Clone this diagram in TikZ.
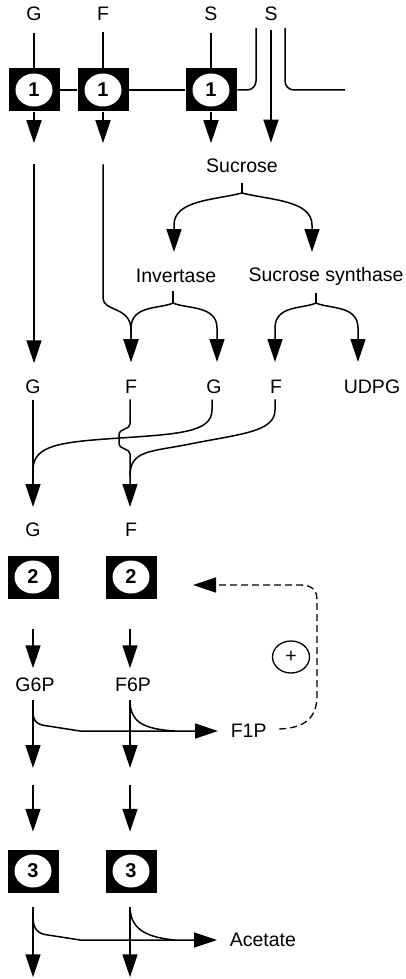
\documentclass[tikz,border=0pt]{standalone}
\usepackage{fontspec}
\setmainfont{Liberation Sans}
\usetikzlibrary{arrows.meta,shapes.geometric}
\tikzset{
  arr/.style={-{Triangle[width=15pt,length=23pt]}},
  met/.style={inner sep=0pt},
  enz/.style={fill=black,minimum width=51pt,minimum height=43pt,inner sep=0pt,
    font=\fontsize{20}{20}\selectfont\bfseries,
    path picture={\fill[white] (path picture bounding box.center) ellipse (18.5pt and 16.5pt);}},
}
\begin{document}
\begin{tikzpicture}[x=1pt,y=-1pt,line width=1.5pt,font=\fontsize{19.5}{22}\selectfont]
\useasboundingbox (0,0) rectangle (406,979);
\node[met] (G0) at (34,14) {G};
\node[met] (F0) at (103,14) {F};
\node[met] (S0) at (211,14) {S};
\node[met] (S1) at (271,14) {S};
\node[enz] (A1) at (34,90) {1};
\node[enz] (B1) at (103,90) {1};
\node[enz] (C1) at (211,90) {1};
\draw (G0.south) ++(0,11) -- (A1.north);
\draw (F0.south) ++(0,11) -- (B1.north);
\draw (S0.south) ++(0,11) -- (C1.north);
\draw (A1.east) -- (B1.west);
\draw (B1.east) -- (C1.west);
\draw[rounded corners=9pt] (C1.east) -- (256,90) -- (256,28);
\draw[rounded corners=9pt] (285,28) -- (285,90) -- (345,90);
\draw[arr] (A1.south) -- ++(0,31);
\draw[arr] (B1.south) -- ++(0,31);
\draw[arr] (C1.south) -- ++(0,31);
\draw[arr] (S1.south) ++(0,8) -- ++(0,113);
\node[met] (Suc) at (242,166) {Sucrose};
\node[met] (Inv) at (176,276) {Invertase};
\node[met] (SS) at (326,276) {Sucrose synthase};
\draw (Suc.south) ++(0,9) -- (242,193);
\draw[arr] (242,193) .. controls (215,200) and (174,200) .. (174,225) -- (174,252);
\draw[arr] (242,193) .. controls (269,200) and (312,200) .. (312,225) -- (312,252);
\draw (Inv.south) ++(-3,7) -- (173,303);
\draw[arr] (173,303) .. controls (160,309) and (131,305) .. (131,328) -- (131,362);
\draw[arr] (173,303) .. controls (186,309) and (217,305) .. (217,328) -- (217,362);
\draw (SS.south) ++(-10,7) -- (316,303);
\draw[arr] (316,303) .. controls (303,309) and (275,305) .. (275,328) -- (275,362);
\draw[arr] (316,303) .. controls (329,309) and (358,305) .. (358,328) -- (358,362);
\draw[arr] (A1.south) ++(0,52) -- ++(0,199);
\draw[arr] (B1.south) ++(0,52) -- (103,298) .. controls (103,312) and (131,306) .. (131,330) -- (131,362);
\node[met] (G2) at (33,387) {G};
\node[met] (F2) at (131,387) {F};
\node[met] (G3) at (214,387) {G};
\node[met] (F3) at (276,387) {F};
\node[met] (U) at (372,387) {UDPG};
\draw[arr] (G2.south) ++(0,5) -- (33,507);
\draw[arr] (F2.south) ++(-1,5) -- (130,424) .. controls (130,430) and (119,428) .. (119,435) -- (119,443)
  .. controls (119,450) and (130,448) .. (130,454) -- (130,507);
\draw (G3.south) ++(-2,5) -- (212,410) .. controls (212,432) and (180,434) .. (120,438)
  .. controls (60,442) and (33,445) .. (33,470);
\draw (F3.south) ++(-1,5) -- (275,410) .. controls (275,432) and (240,434) .. (190,444)
  .. controls (150,452) and (130,450) .. (130,476);
\node[met] (G4) at (33,530) {G};
\node[met] (F4) at (131,530) {F};
\node[enz] (A2) at (33,577) {2};
\node[enz] (B2) at (131,577) {2};
\draw[arr] (A2.south) ++(0,30) -- ++(0,39);
\draw[arr] (B2.south) ++(-1,30) -- ++(0,39);
\node[draw,ellipse,minimum width=37pt,minimum height=32pt,inner sep=0pt,line width=1.3pt] (pl) at (291,657) {+};
\node[met] (G6) at (35,685) {G6P};
\node[met] (F6) at (133,685) {F6P};
\node[met,anchor=west] (F1) at (230,731) {F1P};
\draw[arr] (33,700) -- (33,768);
\draw[arr] (130,700) -- (130,768);
\draw[arr,shorten >=12pt] (33,712) .. controls (33,722) and (38,725) .. (48,726) -- (80,731) -- (F1.west);
\draw (130,702) .. controls (131,720) and (140,729) .. (175,731);
\draw[arr,line width=1.3pt,dash pattern=on 7pt off 4pt] (F1.east) ++(12,-2) .. controls (305,728) and (317,718) .. (317,695)
  -- (317,600) .. controls (317,590) and (312,585) .. (300,585) -- (193,585);
\node[enz] (A3) at (33,871) {3};
\node[enz] (B3) at (131,871) {3};
\draw[arr] (A3.north) ++(0,-64) -- ++(0,47);
\draw[arr] (B3.north) ++(-1,-64) -- ++(0,47);
\draw[arr] (A3.south) ++(0,14) -- ++(0,70);
\draw[arr] (B3.south) ++(-1,14) -- ++(0,70);
\node[met,anchor=west] (Ac) at (229,940) {Acetate};
\draw[arr,shorten >=12pt] (33,917) .. controls (33,929) and (38,934) .. (48,935) -- (80,940) -- (Ac.west);
\draw (130,908) .. controls (131,925) and (140,937) .. (175,940);
\end{tikzpicture}
\end{document}
